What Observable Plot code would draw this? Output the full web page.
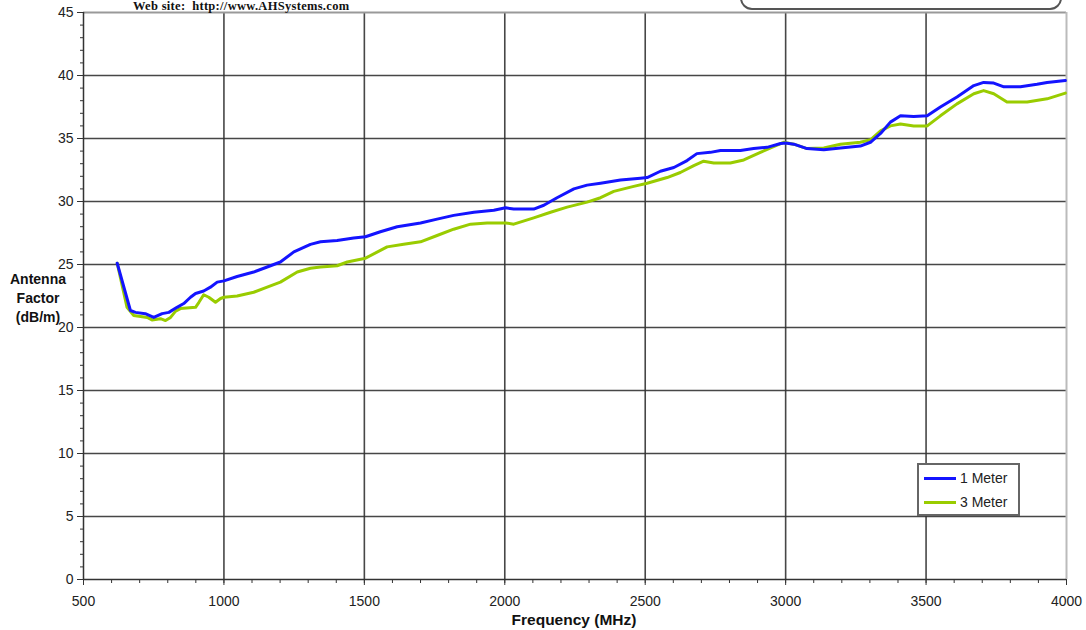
<!DOCTYPE html>
<html><head><meta charset="utf-8">
<script src="https://cdn.jsdelivr.net/npm/d3@7"></script>
<script src="https://cdn.jsdelivr.net/npm/@observablehq/plot@0.6"></script>
<style>
html,body{margin:0;padding:0;background:#fff;overflow:hidden}
#wrap{position:relative;width:1086px;height:630px}
.site{position:absolute;left:133px;top:0px;font:bold 12.5px/12px "Liberation Serif","DejaVu Serif",serif;color:#111;letter-spacing:0.3px;white-space:pre}
.box{position:absolute;left:740px;top:-30px;width:318px;height:36px;border:2px solid #555;border-radius:12px;background:#fff}
.legend{position:absolute;left:917px;top:463px;width:99px;height:49px;border:2px solid #666;background:#fff;font:14px "Liberation Sans",Arial,sans-serif;color:#222}
.legend .row{position:absolute;left:5px;display:flex;align-items:center;line-height:14px}
.legend .sw{width:32px;height:3px;margin-right:4px}
.ylab{position:absolute;left:0;top:270px;width:76px;text-align:center;font:bold 14px/19px "Liberation Sans",Arial,sans-serif;color:#111}
</style></head>
<body><div id="wrap"></div>
<script>
const freq1 = [620,667,685,720,750,780,804,833,857,881,899,928,952,976,1000,1047,1106,1154,1201,1249,1308,1344,1403,1462,1504,1557,1617,1700,1759,1818,1890,1961,2003,2032,2103,2139,2186,2246,2293,2341,2412,2483,2507,2554,2602,2649,2684,2732,2768,2839,2886,2934,2982,3000,3029,3076,3136,3195,3266,3302,3338,3373,3409,3456,3504,3551,3610,3670,3705,3741,3777,3836,3895,3931,3996];
const meter1 = [25.1,21.35,21.2,21.1,20.8,21.1,21.2,21.6,21.9,22.4,22.7,22.9,23.2,23.6,23.7,24.05,24.4,24.8,25.2,26.0,26.6,26.8,26.9,27.1,27.2,27.6,28.0,28.3,28.6,28.9,29.15,29.3,29.5,29.4,29.4,29.7,30.3,31.0,31.3,31.45,31.7,31.85,31.9,32.4,32.7,33.25,33.8,33.9,34.05,34.05,34.2,34.3,34.6,34.65,34.55,34.2,34.1,34.25,34.4,34.7,35.4,36.3,36.8,36.75,36.8,37.5,38.3,39.2,39.45,39.4,39.1,39.1,39.3,39.45,39.6];
const freq3 = [620,655,679,727,744,774,792,810,828,845,899,911,928,946,970,988,1000,1047,1106,1154,1201,1261,1308,1344,1403,1439,1504,1581,1640,1700,1759,1818,1878,1937,2003,2032,2103,2163,2222,2293,2341,2388,2459,2507,2578,2625,2673,2708,2744,2803,2851,2910,2957,2993,3029,3076,3136,3195,3266,3302,3338,3373,3409,3456,3504,3551,3610,3670,3705,3741,3788,3860,3931,3996];
const meter3 = [25.1,21.6,20.95,20.8,20.6,20.7,20.55,20.8,21.3,21.5,21.6,22.0,22.6,22.4,22.0,22.3,22.4,22.5,22.8,23.2,23.6,24.4,24.7,24.8,24.9,25.2,25.5,26.4,26.6,26.8,27.3,27.8,28.2,28.3,28.3,28.2,28.7,29.15,29.55,29.95,30.3,30.8,31.2,31.45,31.9,32.3,32.85,33.2,33.05,33.05,33.3,33.9,34.35,34.7,34.55,34.2,34.25,34.55,34.7,34.9,35.6,36.0,36.15,36.0,36.0,36.8,37.75,38.55,38.8,38.55,37.9,37.9,38.15,38.6];
const xTicks = [500,1000,1500,2000,2500,3000,3500,4000];
const yTicks = [0,5,10,15,20,25,30,35,40,45];
const seriesNames = ["1 Meter","3 Meter"];
const seriesColors = ["#1414ff","#99cc00"];

const s1 = freq1.map((f,i)=>({f, v: meter1[i]}));
const s3 = freq3.map((f,i)=>({f, v: meter3[i]}));
const font = '"Liberation Sans", Arial, sans-serif';

const chart = Plot.plot({
  width: 1086, height: 630,
  marginLeft: 83, marginRight: 20, marginTop: 12, marginBottom: 51,
  style: {fontFamily: font, fontSize: "14px", color: "#222", background: "#fff"},
  x: {domain: [500, 4000], label: null},
  y: {domain: [0, 45], label: null},
  marks: [
    Plot.gridX(xTicks.slice(1, -1), {stroke: "#333", strokeOpacity: 0.9, strokeWidth: 1.6}),
    Plot.gridY(yTicks.slice(1, -1), {stroke: "#333", strokeOpacity: 0.9, strokeWidth: 1.6}),
    Plot.ruleY([45], {stroke: "#999", strokeWidth: 2}),
    Plot.ruleX([4000], {stroke: "#bbb", strokeWidth: 2}),
    Plot.ruleX([500], {stroke: "#333", strokeWidth: 1.5}),
    Plot.ruleY([0], {stroke: "#333", strokeWidth: 1.5}),
    Plot.axisX(d3.range(500, 4001, 100), {tickSize: 4, text: null, stroke: "#333"}),
    Plot.axisX(xTicks, {tickSize: 6, tickPadding: 11, tickFormat: d3.format("d"), stroke: "#333", fill: "#222", fontSize: 14}),
    Plot.axisY(d3.range(0, 46, 1), {tickSize: 3, text: null, stroke: "#333"}),
    Plot.axisY(yTicks, {tickSize: 6, tickPadding: 4, tickFormat: d3.format("d"), stroke: "#333", fill: "#222", fontSize: 14}),
    Plot.line(s3, {x: "f", y: "v", stroke: seriesColors[1], strokeWidth: 3}),
    Plot.line(s1, {x: "f", y: "v", stroke: seriesColors[0], strokeWidth: 3})
  ]
});

const svg = d3.select(chart);
svg.append("text").attr("x", 574).attr("y", 625).attr("text-anchor", "middle")
  .attr("font-family", font).attr("font-weight", "bold").attr("font-size", 15.5).attr("fill", "#111")
  .text("Frequency (MHz)");

const wrap = document.getElementById("wrap");
wrap.appendChild(chart);
chart.style.position = "absolute"; chart.style.left = "0"; chart.style.top = "0";

const site = document.createElement("div"); site.className = "site";
site.textContent = "Web site:  http://www.AHSystems.com"; wrap.appendChild(site);
const box = document.createElement("div"); box.className = "box"; wrap.appendChild(box);
const ylab = document.createElement("div"); ylab.className = "ylab";
ylab.innerHTML = "Antenna<br>Factor<br>(dB/m)"; wrap.appendChild(ylab);

const leg = document.createElement("div"); leg.className = "legend";
seriesNames.forEach((n, i) => {
  const r = document.createElement("div"); r.className = "row"; r.style.top = (6 + i * 24) + "px";
  const sw = document.createElement("div"); sw.className = "sw"; sw.style.background = seriesColors[i];
  const t = document.createElement("span"); t.textContent = n;
  r.appendChild(sw); r.appendChild(t); leg.appendChild(r);
});
wrap.appendChild(leg);
</script></body></html>
